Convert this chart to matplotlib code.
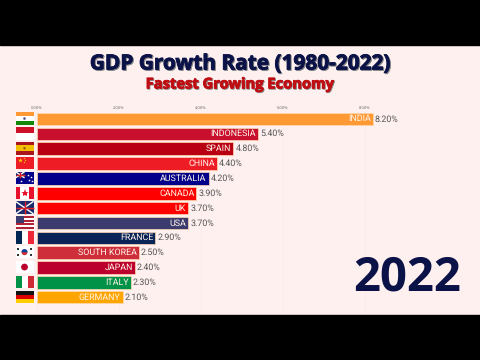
import numpy as np
import matplotlib
matplotlib.use('Agg')
import matplotlib.pyplot as plt
import matplotlib.patches as mpatches
import matplotlib.patheffects as pe

countries = ['INDIA', 'INDONESIA', 'SPAIN', 'CHINA', 'AUSTRALIA', 'CANADA', 'UK', 'USA',
             'FRANCE', 'SOUTH KOREA', 'JAPAN', 'ITALY', 'GERMANY']
growth = [8.2, 5.4, 4.8, 4.4, 4.2, 3.9, 3.7, 3.7, 2.9, 2.5, 2.4, 2.3, 2.1]
colors = ['#ff9933', '#c8102e', '#b80012', '#ee1c25', '#00008b', '#ff0000', '#ff0000', '#3c3b6e',
          '#0a2458', '#cd2e3a', '#bc002d', '#009246', '#ffa500']
ticks = [0, 2, 4, 6, 8]
tick_labels = ['0.00%', '2.00%', '4.00%', '6.00%', '8.00%']
year = '2022'
title = 'GDP Growth Rate (1980-2022)'
subtitle = 'Fastest Growing Economy'

bg = '#fff0f0'
navy = '#0b1247'
W, H = 480, 360

plt.rcParams['font.family'] = ['Open Sans', 'DejaVu Sans']
plt.rcParams['text.hinting'] = 'none'

fig = plt.figure(figsize=(4.8, 3.6), dpi=100, facecolor=bg)

# whole figure in pixels, y going down
page = fig.add_axes([0, 0, 1, 1])
page.set_xlim(0, W)
page.set_ylim(H, 0)
page.axis('off')
page.add_patch(mpatches.Rectangle((0, 0), W, 45, color='black'))
page.add_patch(mpatches.Rectangle((0, 315), W, 45, color='black'))


def shadow_text(x, y, s, color, size, off=1.0):
    page.text(x + off, y + off, s, color='#8a8a8a', fontsize=size, fontweight='bold',
              ha='center', va='center', path_effects=[pe.withStroke(linewidth=0.6, foreground='#8a8a8a')])
    page.text(x, y, s, color=color, fontsize=size, fontweight='bold', ha='center', va='center',
              path_effects=[pe.withStroke(linewidth=0.6, foreground=color)])


shadow_text(240.5, 64, title, navy, 15.0)
shadow_text(240, 84.5, subtitle, '#c00d12', 10.6, 0.8)
page.text(407.5, 278, year, color=navy, fontsize=34, fontweight='bold', ha='center', va='center')

# bars
x0, px_per_unit = 36.5, 41.0
top, pitch = 111.6, 14.85
ax = fig.add_axes([x0 / W, (H - 312) / H, (W - x0) / W, (312 - top + 0.0) / H])
ax.patch.set_alpha(0)
ax.set_xlim(0, (W - x0) / px_per_unit)
ax.set_ylim((312 - top) / pitch - 0.5, -0.5)
ypos = np.arange(len(countries))
ax.barh(ypos, growth, height=0.84, color=colors, edgecolor='#ffd9b0', linewidth=0.5, zorder=3)
for y, v, name in zip(ypos, growth, countries):
    ax.text(v - 0.05, y, name, color='#fff4e8', fontsize=6.4, family=['Roboto', 'DejaVu Sans'],
            ha='right', va='center', zorder=4)
    ax.text(v + 0.05, y, '%.2f%%' % v, color='#555555', fontsize=6.4, family=['Roboto', 'DejaVu Sans'],
            ha='left', va='center', zorder=4)
ax.set_xticks(ticks)
ax.set_xticklabels(tick_labels, fontsize=3, color='#666666')
ax.xaxis.tick_top()
ax.tick_params(axis='x', length=0, pad=1.5)
ax.set_yticks([])
ax.grid(axis='x', color='#fce8e8', linewidth=0.6, zorder=0)
for s in ax.spines.values():
    s.set_visible(False)

# flags next to the bars
fx, fw, fh = 15.5, 18, 12.5


def block(x, y, w, h, c, z=5):
    page.add_patch(mpatches.Rectangle((x, y), w, h, color=c, lw=0, zorder=z))


def stripes_h(y, cols):
    for i, c in enumerate(cols):
        block(fx, y + i * fh / len(cols), fw, fh / len(cols), c)


def stripes_v(y, cols):
    for i, c in enumerate(cols):
        block(fx + i * fw / len(cols), y, fw / len(cols), fh, c)


def union(x, y, w, h):
    block(x, y, w, h, '#1a2a6c', 6)
    page.plot([x, x + w], [y, y + h], color='white', lw=1.0, zorder=7, solid_capstyle='butt')
    page.plot([x, x + w], [y + h, y], color='white', lw=1.0, zorder=7, solid_capstyle='butt')
    page.plot([x + w / 2, x + w / 2], [y, y + h], color='#e0202a', lw=1.0, zorder=8, solid_capstyle='butt')
    page.plot([x, x + w], [y + h / 2, y + h / 2], color='#e0202a', lw=1.0, zorder=8, solid_capstyle='butt')


def centre_dot(y, r, c):
    page.add_patch(mpatches.Ellipse((fx + fw / 2, y + fh / 2), 2 * r, 2 * r, color=c, lw=0, zorder=7))


rows = [top + 0.7 + i * pitch for i in range(len(countries))]

stripes_h(rows[0], ['#ff9933', '#ffffff', '#138808'])
centre_dot(rows[0], 1.3, '#555588')
stripes_h(rows[1], ['#ce1126', '#ffffff'])
stripes_h(rows[2], ['#aa151b', '#f1bf00', '#f1bf00', '#aa151b'])
centre_dot(rows[2], 1.2, '#a05020')
stripes_h(rows[3], ['#ee1c25'])
page.plot([fx + 4], [rows[3] + 3.5], marker='*', ms=3.5, color='#ffde00', mew=0, zorder=7)
for dx, dy in [(8, 1.5), (9, 3.5), (8.5, 5.5)]:
    page.plot([fx + dx], [rows[3] + dy], marker='*', ms=1.5, color='#ffde00', mew=0, zorder=7)
stripes_h(rows[4], ['#00008b'])
union(fx, rows[4], 9, 6.2)
for dx, dy in [(12, 3), (15, 5), (13, 8), (5, 9.5), (16, 9)]:
    page.plot([fx + dx], [rows[4] + dy], marker='*', ms=2, color='white', mew=0, zorder=7)
stripes_v(rows[5], ['#e8112d', '#ffffff', '#ffffff', '#e8112d'])
page.plot([fx + fw / 2], [rows[5] + fh / 2], marker='*', ms=6, color='#e8112d', mew=0, zorder=7)
union(fx, rows[6], fw, fh)
stripes_h(rows[7], ['#b22234', '#ffffff'] * 3 + ['#b22234'])
block(fx, rows[7], 8, 6.7, '#3c3b6e', 6)
stripes_v(rows[8], ['#002654', '#ffffff', '#ed2939'])
stripes_h(rows[9], ['#ffffff'])
centre_dot(rows[9], 3.0, '#cd2e3a')
page.add_patch(mpatches.Wedge((fx + fw / 2, rows[9] + fh / 2), 3.0, 180, 360, color='#0047a0', lw=0, zorder=8))
for dx in [2.5, 15.5]:
    for dy in [3, 9.5]:
        page.plot([fx + dx], [rows[9] + dy], marker='s', ms=1.8, color='#333333', mew=0, zorder=7)
stripes_h(rows[10], ['#ffffff'])
centre_dot(rows[10], 3.4, '#bc002d')
stripes_v(rows[11], ['#009246', '#ffffff', '#ce2b37'])
stripes_h(rows[12], ['#111111', '#dd0000', '#ffce00'])

page.set_zorder(ax.get_zorder() + 1)
page.patch.set_alpha(0)

fig.savefig('out.png', dpi=100, facecolor=bg)
